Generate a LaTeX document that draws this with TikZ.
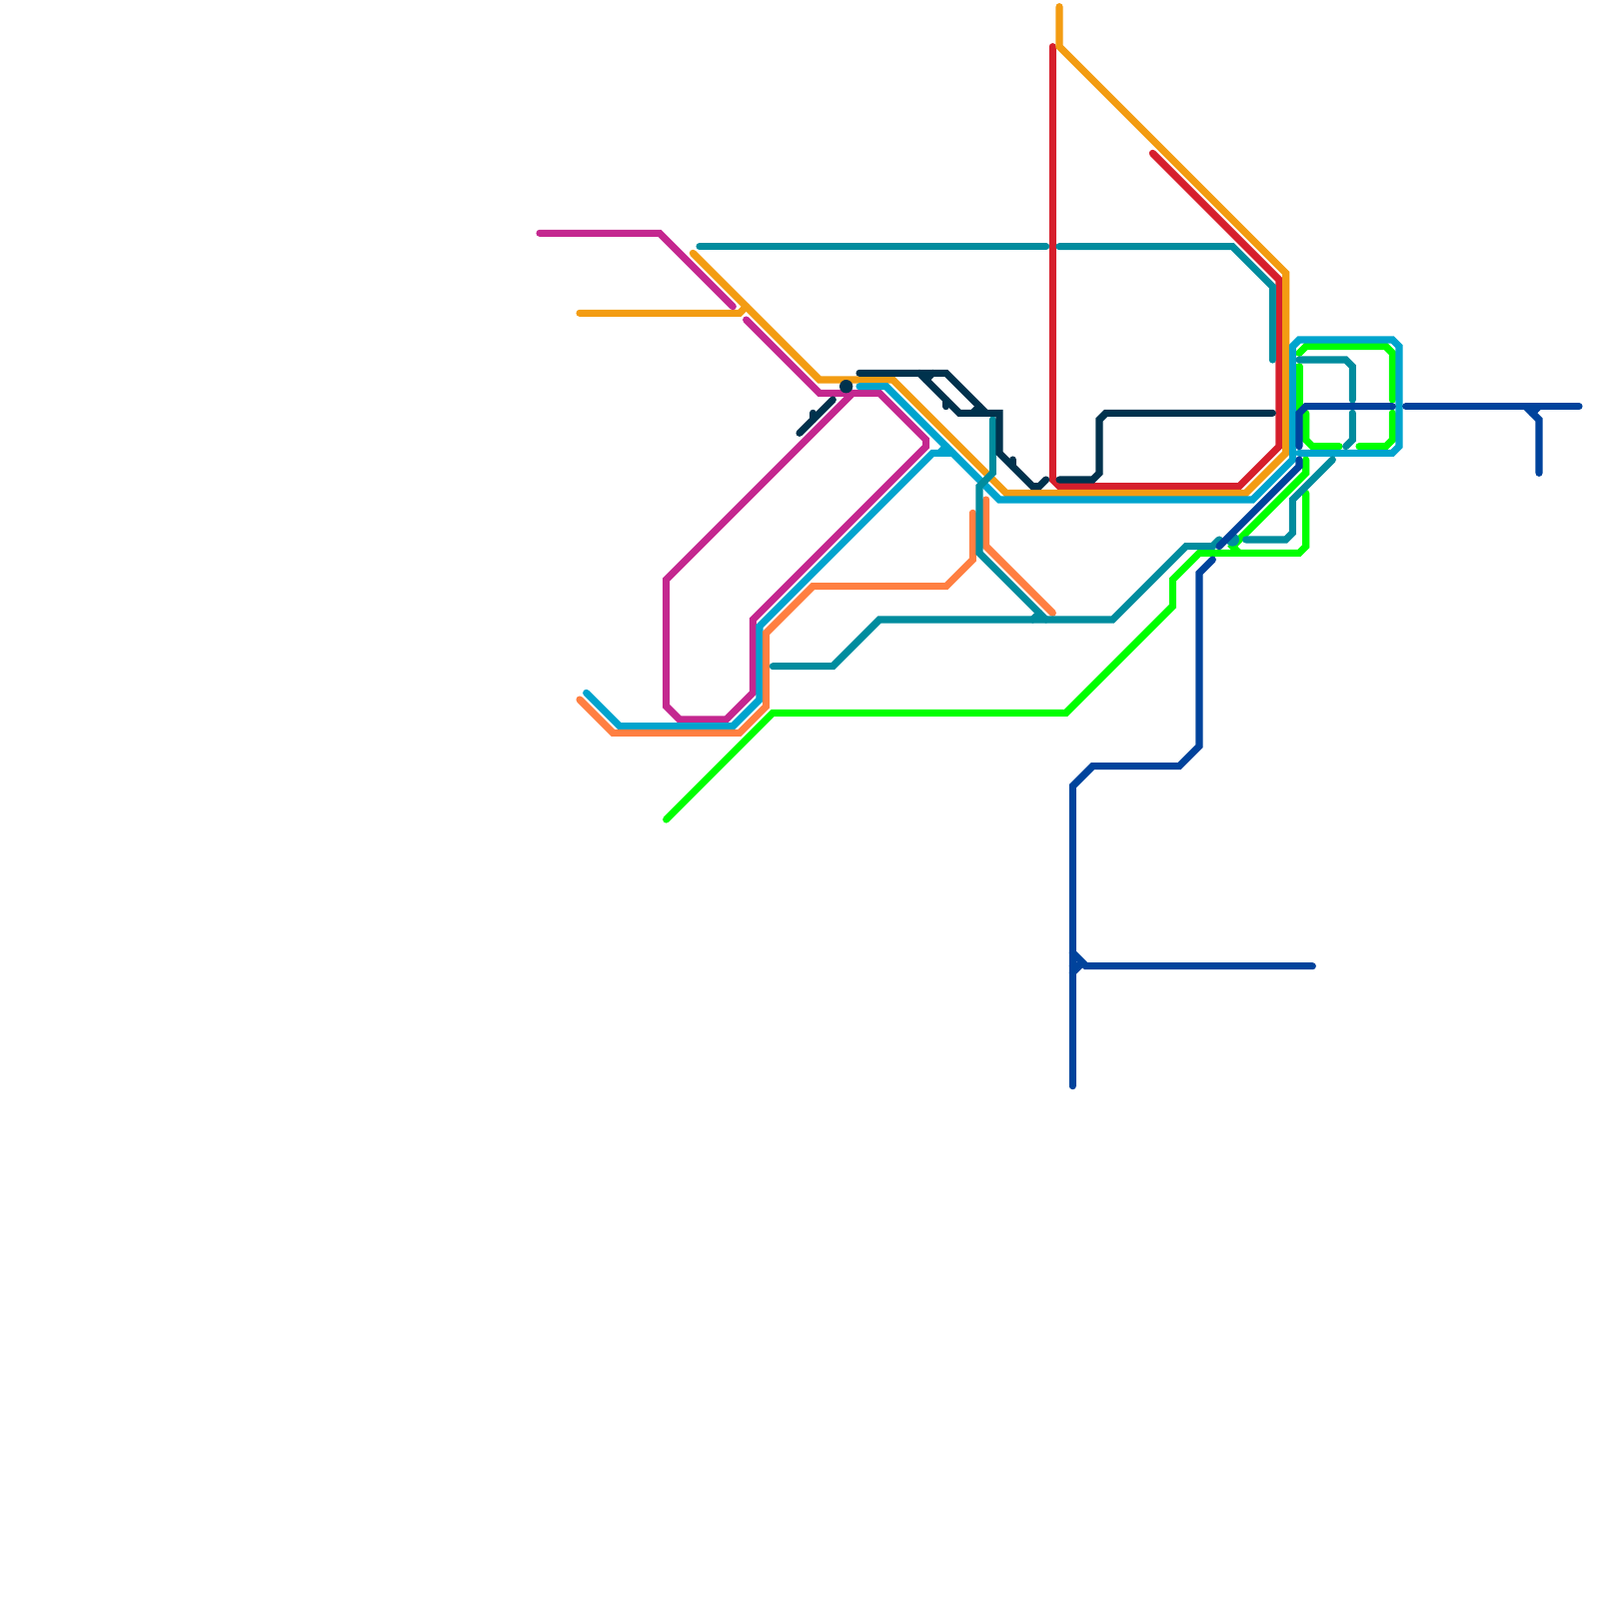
\documentclass[tikz,border=0pt]{standalone}
\usepackage{xcolor}
\definecolor{lineamber}{RGB}{243,156,18}
\definecolor{linered}{RGB}{214,31,44}
\definecolor{linecyan}{RGB}{0,164,206}
\definecolor{linecoral}{RGB}{255,127,65}
\definecolor{linemagenta}{RGB}{196,39,143}
\definecolor{lineteal}{RGB}{0,140,158}
\definecolor{linegreen}{RGB}{0,255,0}
\definecolor{linedark}{RGB}{0,50,77}
\definecolor{lineblue}{RGB}{0,67,156}

\begin{document}
\begin{tikzpicture}[x=1mm, y=-1mm, route/.style={line width=1.07mm, line cap=round}]
	\useasboundingbox (0,0) rectangle (240,240);
	% Green
	\draw[route, linegreen] (100,123) -- (116,107) -- (160,107) -- (176,91) -- (176,87) -- (180,83) -- (195,83) -- (196,82) -- (196,74);
	\draw[route, linegreen] (196,69) -- (196,71) -- (185,82) -- (186,83);
	\draw[route, linegreen] (195,53) -- (196,52) -- (208,52) -- (209,53) -- (209,60);
	\draw[route, linegreen] (195,55) -- (195,62);
	\draw[route, linegreen] (196,62) -- (196,66) -- (197,67) -- (201,67);
	\draw[route, linegreen] (204,67) -- (208,67) -- (209,66) -- (209,62);
	% Red
	\draw[route, linered] (158,7) -- (158,72) -- (159,73) -- (186,73) -- (192,67) -- (192,42) -- (173,23);
	% Amber
	\draw[route, lineamber] (104,38) -- (123,57) -- (134,57) -- (151,74) -- (187,74) -- (193,68) -- (193,41) -- (159,7) -- (159,1);
	\draw[route, lineamber] (87,47) -- (111,47) -- (112,46);
	% Magenta
	\draw[route, linemagenta] (81,35) -- (99,35) -- (110,46);
	\draw[route, linemagenta] (112,48) -- (123,59) -- (132,59) -- (139,66) -- (139,67) -- (113,93) -- (113,104) -- (109,108) -- (102,108) -- (100,106) -- (100,87) -- (128,59);
	% Cyan
	\draw[route, linecyan] (129,58) -- (133,58) -- (150,75) -- (188,75) -- (194,69) -- (194,52) -- (195,51) -- (209,51) -- (210,52) -- (210,67) -- (209,68) -- (195,68);
	\draw[route, linecyan] (88,104) -- (93,109) -- (110,109) -- (114,105) -- (114,94) -- (140,68) -- (141,68) -- (142,67);
	\draw[route, linecyan] (141,68) -- (143,68);
	% Coral
	\draw[route, linecoral] (87,105) -- (92,110) -- (111,110) -- (115,106) -- (115,95) -- (122,88) -- (142,88) -- (146,84) -- (146,77);
	\draw[route, linecoral] (148,75) -- (148,82) -- (158,92);
	% Teal
	\draw[route, lineteal] (105,37) -- (157,37);
	\draw[route, lineteal] (159,37) -- (185,37) -- (191,43) -- (191,54);
	\draw[route, lineteal] (116,100) -- (125,100) -- (132,93) -- (167,93) -- (178,82) -- (182,82) -- (183,81);
	\draw[route, lineteal] (149,63) -- (149,71) -- (147,73) -- (147,83) -- (157,93);
	\draw[route, lineteal] (155,93) -- (156,92);
	\draw[route, lineteal] (187,81) -- (193,81) -- (194,80) -- (194,75) -- (200,69);
	\draw[route, lineteal] (195,54) -- (202,54) -- (203,55) -- (203,60);
	\draw[route, lineteal] (203,62) -- (203,66) -- (202,67);
	\fill[lineteal] (185,81) circle (1);
	% Dark
	\draw[route, linedark] (120,65) -- (125,60);
	\draw[route, linedark] (122,63) -- (122,62);
	\fill[linedark] (127,58) circle (1);
	\draw[route, linedark] (129,56) -- (142,56) -- (148,62);
	\draw[route, linedark] (140,56) -- (139,57);
	\draw[route, linedark] (138,56) -- (144,62) -- (150,62) -- (150,68) -- (155,73) -- (156,73) -- (157,72);
	\draw[route, linedark] (142,60) -- (142,61);
	\draw[route, linedark] (146,62) -- (147,61);
	\draw[route, linedark] (152,70) -- (152,69);
	\draw[route, linedark] (159,72) -- (164,72) -- (165,71) -- (165,63) -- (166,62) -- (191,62);
	% Blue
	\draw[route, lineblue] (211,61) -- (237,61);
	\draw[route, lineblue] (229,61) -- (231,63) -- (231,71);
	\draw[route, lineblue] (230,62) -- (231,61);
	\draw[route, lineblue] (195,67) -- (195,62) -- (196,61) -- (209,61);
	\draw[route, lineblue] (195,69) -- (195,70) -- (183,82);
	\draw[route, lineblue] (182,84) -- (180,86) -- (180,112) -- (177,115) -- (164,115) -- (161,118) -- (161,163);
	\draw[route, lineblue] (161,143) -- (163,145) -- (197,145);
	\draw[route, lineblue] (161,146) -- (162,145) -- (161,145);
\end{tikzpicture}
\end{document}
